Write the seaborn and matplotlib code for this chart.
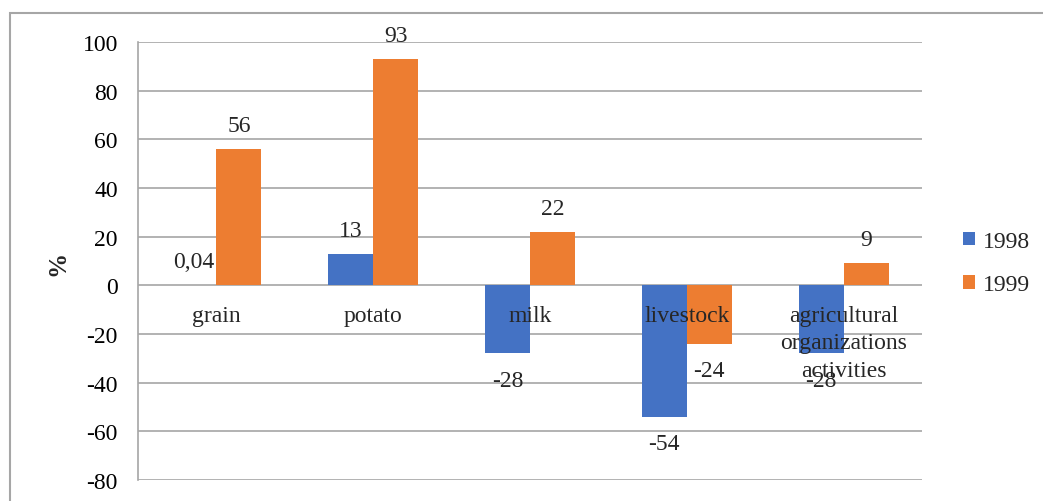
import pandas as pd
import matplotlib.pyplot as plt
import seaborn as sns
from matplotlib.patches import Rectangle

# Chart data
categories = ['grain', 'potato', 'milk', 'livestock',
              'agricultural\norganizations\nactivities']
years = ['1998', '1999']
values_1998 = [0.04, 13, -28, -54, -28]
values_1999 = [56, 93, 22, -24, 9]
y_ticks = [-80, -60, -40, -20, 0, 20, 40, 60, 80, 100]

colors = ['#4472C4', '#ED7D31']
grid_color = '#A6A6A6'
fs = 17

df = pd.DataFrame({
    'category': categories * 2,
    'year': [years[0]] * len(categories) + [years[1]] * len(categories),
    'value': values_1998 + values_1999,
})

sns.set_theme(style='white')
plt.rcParams['font.family'] = ['Liberation Serif', 'DejaVu Serif']
plt.rcParams['font.size'] = fs
plt.rcParams['axes.unicode_minus'] = False

fig = plt.figure(figsize=(10.43, 5.02), dpi=100)
ax = fig.add_axes([0.1323, 0.0418, 0.7517, 0.8725])

sns.barplot(data=df, x='category', y='value', hue='year', order=categories,
            hue_order=years, palette=colors, width=0.574, saturation=1,
            linewidth=0, ax=ax, zorder=3)

# value labels above / below each bar, comma decimal separator
for cont, vals in zip(ax.containers, [values_1998, values_1999]):
    for bar, v in zip(cont.patches, vals):
        x = bar.get_x() + bar.get_width() / 2
        dy = 17 if v >= 0 else -19.5
        ax.annotate(f"{v:g}".replace('.', ','), xy=(x, v), xytext=(0, dy),
                    textcoords='offset points', ha='center', va='center',
                    fontsize=fs, zorder=4)

# category labels sit just under the zero line
ax.set_xticks([])
for i, cat in enumerate(categories):
    ax.annotate(cat, xy=(i, 0), xytext=(0, -14), textcoords='offset points',
                ha='center', va='top', fontsize=fs, linespacing=1.4, zorder=5)

ax.set_xlim(-0.5, len(categories) - 0.5)
ax.set_ylim(y_ticks[0], y_ticks[-1])
ax.set_yticks(y_ticks)
ax.set_xlabel('')
ax.set_ylabel('%', fontsize=fs + 1, fontweight='bold')
ax.yaxis.set_label_coords(-0.087, 0.497)
ax.tick_params(axis='y', length=4.5, width=1, color=grid_color, labelsize=fs,
               labelcolor='black', pad=10)
ax.yaxis.grid(True, color=grid_color, linewidth=1.2)
ax.set_axisbelow(True)
for side in ['top', 'right', 'bottom']:
    ax.spines[side].set_visible(False)
ax.spines['left'].set_color(grid_color)
ax.spines['left'].set_linewidth(1.2)

handles, labels = ax.get_legend_handles_labels()
ax.legend(handles, labels, loc='center left', bbox_to_anchor=(1.052, 0.495),
          frameon=False, fontsize=fs, handlelength=0.5, handleheight=0.5,
          handletextpad=0.35, labelspacing=0.95, borderpad=0, borderaxespad=0)

# outer chart border (left and top edges visible)
fig.patches.append(Rectangle((10 / 1043, -0.2), 1.2, 1.2 - 14 / 502,
                             transform=fig.transFigure, fill=False,
                             edgecolor=grid_color, linewidth=1.5))

fig.savefig('out.png', dpi=100)
